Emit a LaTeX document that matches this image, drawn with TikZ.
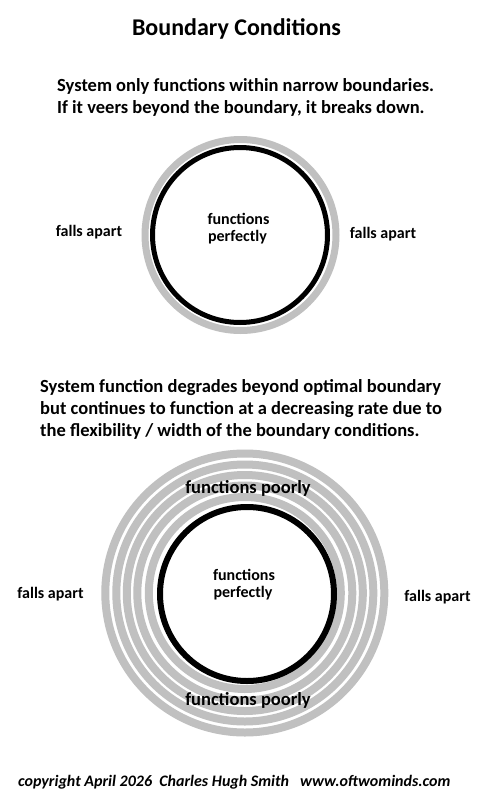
\documentclass[tikz,border=0pt]{standalone}
\usepackage{fontspec}
\setmainfont{Carlito}
\definecolor{ringgray}{HTML}{C0C0C0}
\begin{document}
\begin{tikzpicture}[x=1pt,y=-1pt,
  ring/.style={draw=ringgray,line width=8pt},
  core/.style={draw=black,line width=5.5pt},
  lbl/.style={inner sep=0pt,font=\bfseries\fontsize{16}{19}\selectfont},
  poor/.style={inner sep=0pt,font=\bfseries\fontsize{18.5}{22}\selectfont},
  body/.style={inner sep=0pt,anchor=base west,font=\bfseries\fontsize{18.5}{21.5}\selectfont},
]
\fill[white] (0,0) rectangle (500,806);
\useasboundingbox (0,0) rectangle (500,806);

% title and first text
\node[inner sep=0pt,anchor=base,font=\bfseries\fontsize{24}{28}\selectfont] (title) at (236.5,35) {Boundary Conditions};
\node[body] (t1) at (57,91) {System only functions within narrow boundaries.};
\node[body] (t2) at (57,113) {If it veers beyond the boundary, it breaks down.};

% top circle
\draw[ring,line width=7pt] (240.5,235) circle (95.5);
\draw[core,line width=5pt] (240,235) circle (87.5);
\node[lbl] (fpa) at (238.5,219) {functions};
\node[lbl] (fpb) at (237.5,237) {perfectly};
\node[lbl] (fal) at (89,232) {falls apart};
\node[lbl] (far) at (383,234) {falls apart};

% second text
\node[body] (b1) at (40,392) {System function degrades beyond optimal boundary};
\node[body] (b2) at (40,414) {but continues to function at a decreasing rate due to};
\node[body] (b3) at (40,436) {the flexibility / width of the boundary conditions.};

% bottom circles
\foreach \r in {139.5,128.5,118,107.5,96}{
  \draw[ring] (244.8,593) circle (\r);
}
\draw[core,line width=6pt] (247,594) circle (87);
\node[poor] (pt) at (248,488) {functions poorly};
\node[poor] (pb) at (248,700) {functions poorly};
\node[lbl] (fqa) at (244,575) {functions};
\node[lbl] (fqb) at (243,593) {perfectly};
\node[lbl] (gal) at (50.5,594) {falls apart};
\node[lbl] (gar) at (437.5,597) {falls apart};

% footer
\node[inner sep=0pt,anchor=base west,font=\bfseries\itshape\fontsize{16}{19}\selectfont] (foot) at (18,786) {copyright April 2026\ \ Charles Hugh Smith\ \ \ www.oftwominds.com};
\end{tikzpicture}
\end{document}
